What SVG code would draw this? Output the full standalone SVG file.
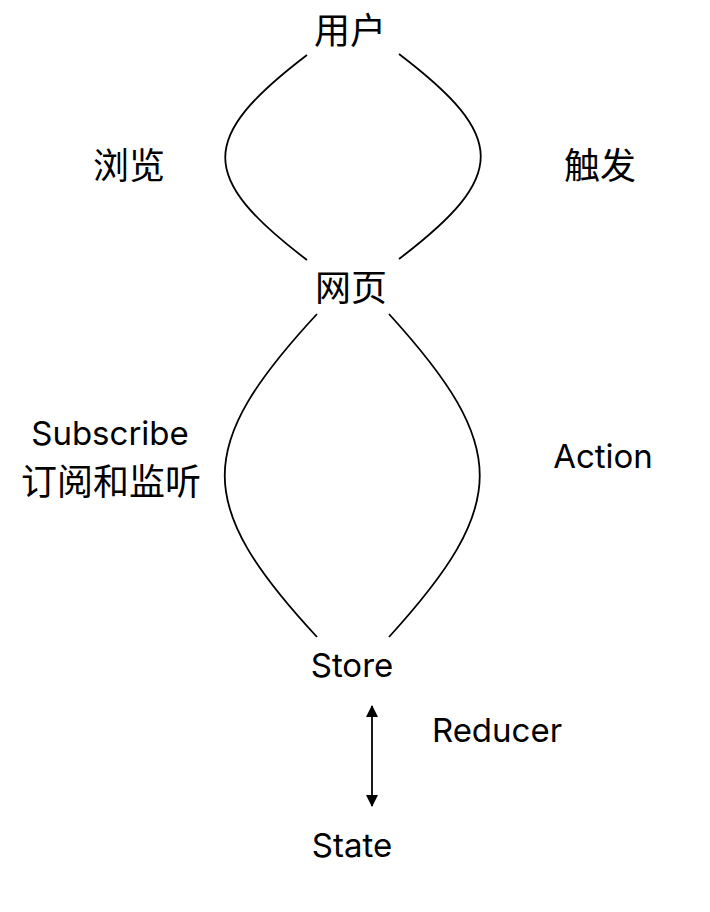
<svg xmlns="http://www.w3.org/2000/svg" width="710" height="912" viewBox="0 0 710 912">
<defs>
<style>
.lat{font-family:Inter,"Noto Sans","Liberation Sans",sans-serif;font-size:33px;fill:#000;text-anchor:middle}
.cjk{font-family:"Noto Sans CJK SC",sans-serif;font-size:36px;fill:#000;text-anchor:middle}
.edge{fill:none;stroke:#000;stroke-width:1.8}
</style>
<marker id="ah" viewBox="0 0 12 12" refX="11" refY="6" markerWidth="12" markerHeight="12" markerUnits="userSpaceOnUse" orient="auto-start-reverse">
<path d="M0,0 L12,6 L0,12 z" fill="#000"/>
</marker>
</defs>
<rect width="710" height="912" fill="#fff"/>
<g id="connectors">
<path class="edge" d="M307,55 C198,138 198,177 307,260"/>
<path class="edge" d="M399,54 C508,137 508,176 399,259"/>
<path class="edge" d="M317,314 C194,447 194,504 317,637"/>
<path class="edge" d="M389,314 C510,447 510,504 389,637"/>
<line class="edge" x1="372" y1="706" x2="372" y2="806" marker-start="url(#ah)" marker-end="url(#ah)"/>
</g>
<g id="user"><text class="cjk" x="350" y="44">用户</text></g>
<g id="browse"><text class="cjk" x="129" y="179">浏览</text></g>
<g id="trigger"><text class="cjk" x="600" y="179">触发</text></g>
<g id="webpage"><text class="cjk" x="351" y="301">网页</text></g>
<g id="subscribe">
<text class="lat" x="110" y="445">Subscribe</text>
<text class="cjk" x="111" y="495" font-size="35">订阅和监听</text>
</g>
<g id="action"><text class="lat" x="603" y="468">Action</text></g>
<g id="store"><text class="lat" x="352" y="677">Store</text></g>
<g id="reducer"><text class="lat" x="497" y="742">Reducer</text></g>
<g id="state"><text class="lat" x="352" y="857">State</text></g>
</svg>
